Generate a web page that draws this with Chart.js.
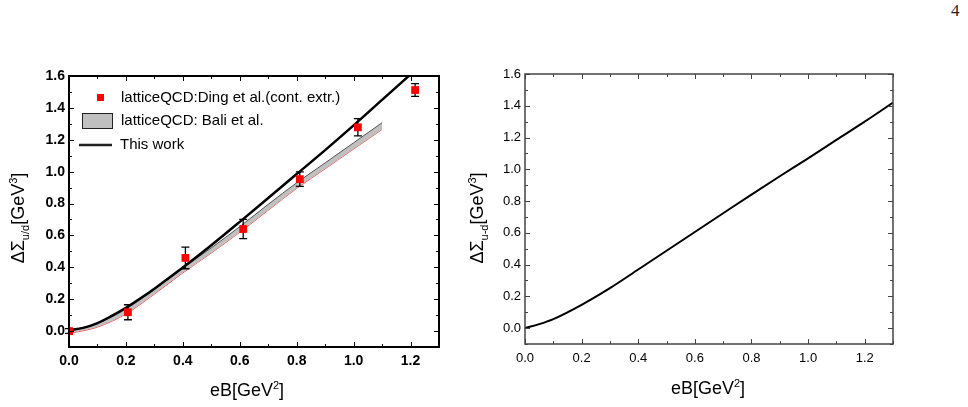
<!DOCTYPE html>
<html lang="en">
<head>
<meta charset="UTF-8">
<title>Condensate difference vs eB</title>
<script src="https://cdn.jsdelivr.net/npm/chart.js"></script>
<style>
  body { margin: 0; background: #fff; width: 968px; height: 407px; position: relative; overflow: hidden; }
  .panel { position: absolute; top: 0; height: 407px; }
  #left { left: 0; width: 450px; }
  #right { left: 450px; width: 518px; }
  .pagenum { position: absolute; left: 951px; top: 1px; font-family: "Liberation Serif", serif; font-size: 17px; color: #222; }
</style>
</head>
<body>
<div class="pagenum">4</div>
<div class="panel" id="left"><canvas id="leftChart" width="450" height="407"></canvas></div>
<div class="panel" id="right"><canvas id="rightChart" width="518" height="407"></canvas></div>
<script>
// tick labels
const xTicks = [0.0, 0.2, 0.4, 0.6, 0.8, 1.0, 1.2];
const yTicks = [0.0, 0.2, 0.4, 0.6, 0.8, 1.0, 1.2, 1.4, 1.6];

// lattice points, Ding et al. (cont. extr.)
const dingX = [0.0, 0.207, 0.409, 0.612, 0.811, 1.015, 1.216];
const dingY = [0.0, 0.118, 0.459, 0.640, 0.953, 1.278, 1.512];
const dingErr = [0.015, 0.047, 0.068, 0.060, 0.045, 0.054, 0.040];

// lattice band, Bali et al.
const baliX = [0.0, 0.1, 0.2, 0.3, 0.4, 0.5, 0.6, 0.7, 0.8, 0.9, 1.0, 1.1];
const baliLow = [-0.015, 0.025, 0.108, 0.232, 0.365, 0.490, 0.620, 0.758, 0.895, 1.018, 1.142, 1.265];
const baliHigh = [0.002, 0.048, 0.138, 0.262, 0.395, 0.522, 0.655, 0.795, 0.930, 1.055, 1.181, 1.307];

// this work, left panel (u/d)
const workX = [0.0, 0.05, 0.1, 0.15, 0.2, 0.25, 0.3, 0.4, 0.5, 0.6, 0.7, 0.8, 0.9, 1.0, 1.1, 1.2];
const workY = [0.006, 0.020, 0.050, 0.095, 0.146, 0.204, 0.266, 0.398, 0.538, 0.685, 0.835, 0.985, 1.135, 1.290, 1.450, 1.610];

// this work, right panel (u-d)
const diffX = [0.0, 0.05, 0.1, 0.2, 0.3, 0.4, 0.5, 0.6, 0.7, 0.8, 0.9, 1.0, 1.1, 1.2, 1.3];
const diffY = [0.0, 0.025, 0.057, 0.147, 0.252, 0.369, 0.487, 0.605, 0.723, 0.841, 0.956, 1.069, 1.185, 1.300, 1.420];

const pts = (xs, ys) => xs.map((x, i) => ({ x: x, y: ys[i] }));
const FONT = 'Liberation Sans, Arial, sans-serif';

// frame + inward major/minor ticks on all four sides
function frameTicks(color, width) {
  return {
    id: 'frameTicks',
    afterDatasetsDraw(chart) {
      const { ctx, chartArea: a, scales: { x, y } } = chart;
      ctx.save();
      ctx.strokeStyle = color;
      ctx.lineWidth = 1;
      ctx.beginPath();
      for (let i = 0; i <= 13; i++) {
        const px = Math.round(x.getPixelForValue(i / 10)) + 0.5;
        const len = i % 2 === 0 ? 5 : 3;
        ctx.moveTo(px, a.bottom); ctx.lineTo(px, a.bottom - len);
        ctx.moveTo(px, a.top); ctx.lineTo(px, a.top + len);
      }
      for (let i = -1; i <= 16; i++) {
        const py = Math.round(y.getPixelForValue(i / 10)) + 0.5;
        const len = i % 2 === 0 ? 5 : 3;
        ctx.moveTo(a.left, py); ctx.lineTo(a.left + len, py);
        ctx.moveTo(a.right, py); ctx.lineTo(a.right - len, py);
      }
      ctx.stroke();
      ctx.lineWidth = width;
      ctx.strokeRect(a.left, a.top, a.right - a.left, a.bottom - a.top);
      ctx.restore();
    }
  };
}

// text with sub/superscript pieces: [text, 'n' | 'sub' | 'sup']
function drawRich(ctx, parts, cx, cy, size, rotate) {
  ctx.save();
  ctx.translate(cx, cy);
  if (rotate) ctx.rotate(-Math.PI / 2);
  ctx.textBaseline = 'alphabetic';
  ctx.fillStyle = '#000';
  const fontFor = s => (s === 'n' ? size : Math.round(size * 0.62)) + 'px ' + FONT;
  let total = 0;
  parts.forEach(p => { ctx.font = fontFor(p[1]); total += ctx.measureText(p[0]).width; });
  let x = -total / 2;
  const base = size * 0.36;
  parts.forEach(p => {
    ctx.font = fontFor(p[1]);
    const dy = p[1] === 'sub' ? size * 0.25 : p[1] === 'sup' ? -size * 0.42 : 0;
    ctx.fillText(p[0], x, base + dy);
    x += ctx.measureText(p[0]).width;
  });
  ctx.restore();
}

function titles(xParts, xPos, yParts, yPos) {
  return {
    id: 'titles',
    afterDraw(chart) {
      drawRich(chart.ctx, xParts, xPos[0], xPos[1], 18, false);
      drawRich(chart.ctx, yParts, yPos[0], yPos[1], 18, true);
    }
  };
}

const errorBars = {
  id: 'errorBars',
  afterDatasetDraw(chart, args) {
    if (args.index !== 1) return;
    const { ctx, scales: { x, y } } = chart;
    ctx.save();
    ctx.strokeStyle = '#000';
    ctx.lineWidth = 1.3;
    ctx.beginPath();
    dingX.forEach((v, i) => {
      const px = x.getPixelForValue(v);
      const top = y.getPixelForValue(dingY[i] + dingErr[i]);
      const bot = y.getPixelForValue(dingY[i] - dingErr[i]);
      ctx.moveTo(px, top); ctx.lineTo(px, bot);
      ctx.moveTo(px - 4, top); ctx.lineTo(px + 4, top);
      ctx.moveTo(px - 4, bot); ctx.lineTo(px + 4, bot);
    });
    ctx.stroke();
    ctx.restore();
  }
};

const legendBox = {
  id: 'legendBox',
  afterDraw(chart) {
    const ctx = chart.ctx;
    ctx.save();
    ctx.font = '15px ' + FONT;
    ctx.textBaseline = 'middle';
    ctx.fillStyle = '#ff0000';
    ctx.fillRect(97, 94, 7, 7);
    ctx.fillStyle = '#000';
    ctx.fillText('latticeQCD:Ding et al.(cont. extr.)', 121, 98);
    ctx.fillStyle = '#c0c0c0';
    ctx.fillRect(82, 113, 30, 15);
    ctx.strokeStyle = '#222';
    ctx.lineWidth = 1;
    ctx.strokeRect(82.5, 113.5, 30, 15);
    ctx.fillStyle = '#000';
    ctx.fillText('latticeQCD: Bali et al.', 121, 121);
    ctx.lineWidth = 2.5;
    ctx.beginPath();
    ctx.moveTo(79, 145); ctx.lineTo(112, 145);
    ctx.stroke();
    ctx.fillText('This work', 120, 145);
    ctx.restore();
  }
};

function axes(tickFont, yWidth, xHeight, xPad) {
  return {
    x: {
      type: 'linear', min: 0, max: 1.3,
      grid: { display: false, drawTicks: false }, border: { display: false },
      afterBuildTicks: s => { s.ticks = xTicks.map(v => ({ value: v })); },
      afterFit: s => { s.height = xHeight; },
      ticks: { font: tickFont, color: '#000', padding: xPad, maxRotation: 0, callback: v => v.toFixed(1) }
    },
    y: {
      type: 'linear', min: -0.1, max: 1.6,
      grid: { display: false, drawTicks: false }, border: { display: false },
      afterBuildTicks: s => { s.ticks = yTicks.map(v => ({ value: v })); },
      afterFit: s => { s.width = yWidth; },
      ticks: { font: tickFont, color: '#000', padding: 4, callback: v => v.toFixed(1) }
    }
  };
}

new Chart(document.getElementById('leftChart'), {
  type: 'scatter',
  data: {
    datasets: [
      { label: 'latticeQCD:Ding et al.(cont. extr.)', data: pts(dingX, dingY), showLine: false,
        pointStyle: 'rect', pointRadius: 5.5, backgroundColor: '#ff0000', borderColor: '#ff0000', borderWidth: 0 },
      { label: 'This work', data: pts(workX, workY), showLine: true, pointRadius: 0,
        borderColor: '#000', borderWidth: 2.5, cubicInterpolationMode: 'monotone' },
      { label: 'latticeQCD: Bali et al.', data: pts(baliX, baliHigh), showLine: true, pointRadius: 0,
        borderColor: '#555', borderWidth: 1, backgroundColor: '#c0c0c0', fill: '+1', cubicInterpolationMode: 'monotone' },
      { label: 'Bali lower', data: pts(baliX, baliLow), showLine: true, pointRadius: 0,
        borderColor: '#ff3030', borderWidth: 1, fill: false, cubicInterpolationMode: 'monotone' }
    ]
  },
  options: {
    responsive: false,
    animation: false,
    layout: { padding: { top: 76, right: 11, left: 0, bottom: 0 } },
    plugins: { legend: { display: false }, tooltip: { enabled: false } },
    scales: axes({ family: FONT, size: 14, weight: 'bold' }, 69, 60, 6)
  },
  plugins: [errorBars, frameTicks('#000', 2), legendBox,
    titles([['eB[GeV', 'n'], ['2', 'sup'], [']', 'n']], [247, 390],
           [['ΔΣ', 'n'], ['u/d', 'sub'], ['[GeV', 'n'], ['3', 'sup'], [']', 'n']], [18, 218])]
});

new Chart(document.getElementById('rightChart'), {
  type: 'scatter',
  data: {
    datasets: [
      { label: 'u-d', data: pts(diffX, diffY), showLine: true, pointRadius: 0,
        borderColor: '#000', borderWidth: 2, cubicInterpolationMode: 'monotone' }
    ]
  },
  options: {
    responsive: false,
    animation: false,
    layout: { padding: { top: 74, right: 75, left: 0, bottom: 0 } },
    plugins: { legend: { display: false }, tooltip: { enabled: false } },
    scales: axes({ family: FONT, size: 13 }, 75, 63, 7)
  },
  plugins: [frameTicks('#444', 1.5),
    titles([['eB[GeV', 'n'], ['2', 'sup'], [']', 'n']], [258, 388],
           [['ΔΣ', 'n'], ['u-d', 'sub'], ['[GeV', 'n'], ['3', 'sup'], [']', 'n']], [27, 218])]
});
</script>
</body>
</html>
